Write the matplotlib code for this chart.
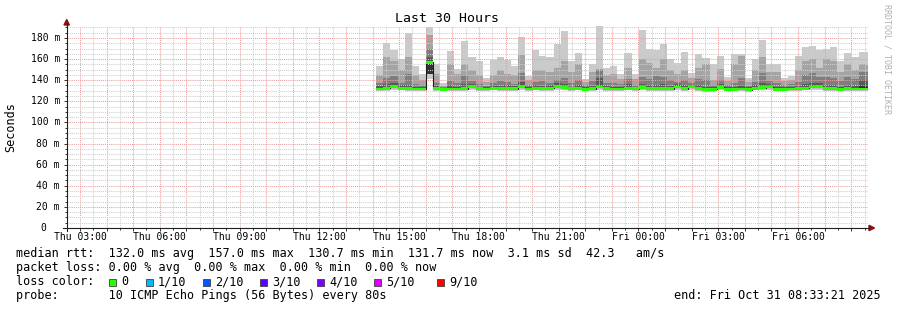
import numpy as np
import matplotlib
matplotlib.use("Agg")
import matplotlib.pyplot as plt
from matplotlib.lines import Line2D
from matplotlib.patches import Rectangle, Polygon

plt.rcParams['font.family'] = ['DejaVu Sans Mono']

W, H = 897, 310

# time axis: hours since Thu 00:00
t_left = 2.5875
t_right = 32.63
first_bar = 14.14          # first 960 s consolidated sample
step = 960 / 3600.0

# smoke: 10 sorted pings per step, pairs (p1,p10) .. (p5,p6) (ms)
ping_p10 = [153, 175, 169, 160, 185, 153, 146, 190, 155, 137, 168, 151, 177, 162, 158, 142, 159, 162, 159, 153,
            181, 144, 169, 163, 162, 174, 187, 158, 166, 141, 155, 191, 152, 153, 146, 166, 146, 188, 170, 169,
            174, 160, 156, 167, 147, 165, 161, 155, 163, 143, 165, 165, 142, 160, 178, 155, 155, 142, 144, 163,
            171, 172, 169, 170, 171, 158, 166, 162, 167, 167]
ping_p9 = [145, 162, 158, 150, 162, 145, 140, 183, 146, 134.5, 155, 146, 155, 150, 145, 138, 145, 150, 146, 145,
           164, 140, 150, 150, 148, 152, 158, 148, 155, 138, 148, 151, 145, 146, 141, 152, 141, 160, 156, 152,
           160, 150, 146, 150, 142, 152, 155, 140, 151, 139, 155, 163, 138, 150, 162, 148, 148, 139, 140, 150,
           158, 160, 152, 160, 158, 148, 155, 150, 155, 154]
ping_p8 = [137, 142, 144, 137, 146, 136, 135, 170, 137, 134, 139, 137, 145, 139, 136, 134.5, 137, 139, 138, 136.5,
           147, 135, 138, 139, 137, 140, 142, 137, 140, 135, 139, 150, 137, 137, 136, 141, 135.5, 143, 141, 144,
           143, 140, 138, 140, 137, 141, 140, 135, 140, 135, 137, 142, 134.5, 138, 147, 139, 137, 135, 136, 138,
           145, 147, 143, 143, 142, 139, 143, 141, 148, 148]
ping_p7 = [134.5, 136, 137, 135, 135.5, 134, 133.8, 162, 134.5, 133, 135, 134, 136, 136.5, 134, 133.5, 135, 134.5,
           135, 134.5, 138, 133.5, 135, 134.5, 135, 137, 136, 134, 135, 133.5, 134.5, 142, 134.5, 134, 133.8, 136,
           134, 136.5, 135, 135, 136, 134.5, 136, 135, 135.5, 135, 134, 133.5, 136, 133.5, 134, 135, 133.5, 135,
           137, 136, 134, 133.5, 134, 134.5, 136, 137, 137, 135.5, 135.5, 134, 135, 134.5, 140.4, 140.4]
ping_p6 = [132.6, 133.3, 134.8, 133.5, 133.0, 132.6, 132.6, 158.5, 132.8, 132.3, 132.6, 132.6, 132.9, 134.8, 132.8,
           132.6, 133.5, 132.8, 133.0, 132.8, 135.0, 132.6, 133.5, 132.8, 133.3, 134.8, 134.0, 132.8, 133.5, 132.5,
           132.9, 134.5, 133.0, 132.7, 132.6, 133.5, 132.8, 134.0, 132.8, 133.0, 132.9, 132.8, 134.5, 132.8, 134.5,
           132.8, 132.2, 132.4, 134.3, 132.3, 132.5, 132.6, 132.2, 133.5, 133.8, 134.5, 132.5, 132.3, 132.6, 132.9,
           133.5, 134.6, 134.8, 133.0, 133.0, 132.5, 132.8, 132.6, 135.3, 135.3]
ping_p5 = [131.2, 131.9, 133.4, 132.1, 131.6, 131.2, 131.2, 146, 131.4, 130.9, 131.2, 131.2, 131.5, 133.4, 131.4,
           131.2, 132.1, 131.4, 131.6, 131.4, 133.6, 131.2, 132.1, 131.4, 131.9, 133.4, 132.6, 131.4, 132.1, 131.1,
           131.5, 133.1, 131.6, 131.3, 131.2, 132.1, 131.4, 132.6, 131.4, 131.6, 131.5, 131.4, 133.1, 131.4, 133.1,
           131.4, 130.8, 131.0, 132.9, 130.9, 131.1, 131.2, 130.8, 132.1, 132.4, 133.1, 131.1, 130.9, 131.2, 131.5,
           132.1, 133.2, 133.4, 131.6, 131.6, 131.1, 131.4, 131.2, 131.3, 131.3]
ping_p1 = [129.6, 130.1, 130.6, 130.3, 130.0, 129.6, 129.6, 141, 129.8, 129.4, 129.6, 129.6, 129.9, 130.8, 129.8,
           129.6, 130.3, 129.8, 130.0, 129.8, 130.8, 129.6, 130.3, 129.8, 130.1, 130.8, 130.5, 129.8, 130.3, 129.5,
           129.9, 130.6, 130.0, 129.7, 129.6, 130.3, 129.8, 130.5, 129.8, 130.0, 129.9, 129.8, 130.6, 129.8, 130.6,
           129.8, 129.3, 129.4, 130.5, 129.4, 129.5, 129.6, 129.3, 130.3, 130.4, 130.6, 129.5, 129.4, 129.6, 129.9,
           130.3, 130.6, 130.8, 130.0, 130.0, 129.5, 129.8, 129.6, 129.7, 129.7]
median = [131.6, 132.3, 133.8, 132.5, 132.0, 131.6, 131.6, 157.0, 131.8, 131.3, 131.6, 131.6, 131.9, 133.8, 131.8, 131.6,
          132.5, 131.8, 132.0, 131.8, 134.0, 131.6, 132.5, 131.8, 132.3, 133.8, 133.0, 131.8, 132.5, 131.5, 131.9, 133.5,
          132.0, 131.7, 131.6, 132.5, 131.8, 133.0, 131.8, 132.0, 131.9, 131.8, 133.5, 131.8, 133.5, 131.8, 131.2, 131.4,
          133.3, 131.3, 131.5, 131.6, 131.2, 132.5, 132.8, 133.5, 131.5, 131.3, 131.6, 131.9, 132.5, 133.6, 133.8, 132.0,
          132.0, 131.5, 131.8, 131.6, 131.7, 131.7]

smoke_tops = [ping_p10, ping_p9, ping_p8, ping_p7, ping_p6]
smoke_bottoms = [ping_p1, ping_p5, ping_p5, ping_p5, ping_p5]
smoke_colors = ['#cacaca', '#a4a4a4', '#7e7e7e', '#585858', '#323232']

xtick_hours = [3, 6, 9, 12, 15, 18, 21, 24, 27, 30]
xtick_labels = ['Thu 03:00', 'Thu 06:00', 'Thu 09:00', 'Thu 12:00', 'Thu 15:00',
                'Thu 18:00', 'Thu 21:00', 'Fri 00:00', 'Fri 03:00', 'Fri 06:00']
ytick_vals = [0, 20, 40, 60, 80, 100, 120, 140, 160, 180]
ytick_labels = ['0', '20 m', '40 m', '60 m', '80 m', '100 m', '120 m', '140 m', '160 m', '180 m']

loss_names = ['0', '1/10', '2/10', '3/10', '4/10', '5/10', '9/10']
loss_colors = ['#26ff00', '#00b8ff', '#0059ff', '#5e00ff', '#7e00ff', '#dd00ff', '#ff0000']
loss_box_x = [109, 146, 203, 260, 317, 374, 437]


def fx(x):
    return x / W


def fy(y):
    return 1 - y / H


fig = plt.figure(figsize=(W / 100, H / 100), dpi=100)
ax_l, ax_r, ax_t, ax_b = 66.7, 868, 26, 228
ax = fig.add_axes([fx(ax_l), fy(ax_b), (ax_r - ax_l) / W, (ax_b - ax_t) / H])
ax.set_xlim(t_left, t_right)
ax.set_ylim(0, (ax_b - ax_t) / 1.0556)
for s in ax.spines.values():
    s.set_visible(False)

n = len(median)
xs = first_bar + step * np.arange(n)

# smoke, lightest (outer pair) first
for top, bot, col in zip(smoke_tops, smoke_bottoms, smoke_colors):
    top = np.array(top)
    bot = np.array(bot)
    ax.bar(xs, top - bot, bottom=bot, width=step, align='edge',
           color=col, linewidth=0, antialiased=False, zorder=1)

# grid over the smoke
ax.set_xticks(np.arange(3, 33, 1.0))
ax.set_xticks(np.arange(2.5, 33, 1.0), minor=True)
ax.set_yticks(ytick_vals)
ax.set_yticks([v for v in range(5, 191, 5) if v % 20], minor=True)
ax.tick_params(which='both', labelbottom=False, labelleft=False, direction='out', color='#333333', width=0.7)
ax.tick_params(which='major', length=2.2)
ax.tick_params(which='minor', length=1.2)
ax.grid(which='major', color='#eaa0a0', linestyle=(0, (1, 1)), linewidth=0.75, zorder=1.5)
ax.grid(which='minor', color='#cfcfcf', linestyle=(0, (1, 1)), linewidth=0.75, zorder=1.5)

# median: dark step line then the loss-coloured band
edges = np.append(xs, xs[-1] + step)
ax.step(edges, np.append(median, median[-1]), where='post', color='#202020', linewidth=0.8, zorder=2.8)
ax.bar(xs, 2.6, bottom=np.array(median) - 1.3, width=step, align='edge',
       color=loss_colors[0], linewidth=0, antialiased=False, zorder=3)

# tick labels
for h, lab in zip(xtick_hours, xtick_labels):
    ax.text(h, -(237 - ax_b) / (ax_b - ax_t), lab, transform=ax.get_xaxis_transform(),
            ha='center', va='center', fontsize=7, color='#000000')
for v, lab in zip(ytick_vals, ytick_labels):
    xr = 46 if lab == '0' else 60
    ax.text((xr - ax_l) / (ax_r - ax_l), v, lab, transform=ax.get_yaxis_transform(),
            ha='right', va='center', fontsize=7, color='#000000')

# axes with arrows
fig.add_artist(Line2D([fx(63), fx(869)], [fy(228), fy(228)], color='#202020', linewidth=0.8))
fig.add_artist(Line2D([fx(66.7), fx(66.7)], [fy(231), fy(24)], color='#202020', linewidth=0.8))
fig.add_artist(Polygon([[fx(66.7), fy(19.5)], [fx(64), fy(25)], [fx(69.4), fy(25)]],
                       closed=True, color='#8b1010', transform=fig.transFigure))
fig.add_artist(Polygon([[fx(874.5), fy(228)], [fx(869), fy(225.3)], [fx(869), fy(230.7)]],
                       closed=True, color='#8b1010', transform=fig.transFigure))

fig.text(fx(447), fy(19), 'Last 30 Hours', ha='center', va='center', fontsize=9.5)
fig.text(fx(11), fy(127), 'Seconds', ha='center', va='center', rotation=90, fontsize=8.5)
fig.text(fx(887), fy(59), 'RRDTOOL / TOBI OETIKER', ha='center', va='center', rotation=270,
         fontsize=6, color='#b0b0b0')

# legend block
fs = 8.5
fig.text(fx(16), fy(257.3), 'median rtt:  132.0 ms avg  157.0 ms max  130.7 ms min  131.7 ms now  3.1 ms sd  42.3   am/s',
         ha='left', va='baseline', fontsize=fs)
fig.text(fx(16), fy(271.3), 'packet loss: 0.00 % avg  0.00 % max  0.00 % min  0.00 % now',
         ha='left', va='baseline', fontsize=fs)
fig.text(fx(16), fy(285.3), 'loss color:', ha='left', va='baseline', fontsize=fs)
for bx, name, col in zip(loss_box_x, loss_names, loss_colors):
    fig.add_artist(Rectangle((fx(bx), fy(285.5)), 6.5 / W, 6.5 / H, facecolor=col,
                             edgecolor='#404040', linewidth=0.6, transform=fig.transFigure))
    fig.text(fx(bx + 12), fy(285.3), name, ha='left', va='baseline', fontsize=fs)
fig.text(fx(16), fy(299.3), 'probe:       10 ICMP Echo Pings (56 Bytes) every 80s',
         ha='left', va='baseline', fontsize=fs)
fig.text(fx(881), fy(299.3), 'end: Fri Oct 31 08:33:21 2025', ha='right', va='baseline', fontsize=fs)

fig.savefig('out.png', dpi=100)
